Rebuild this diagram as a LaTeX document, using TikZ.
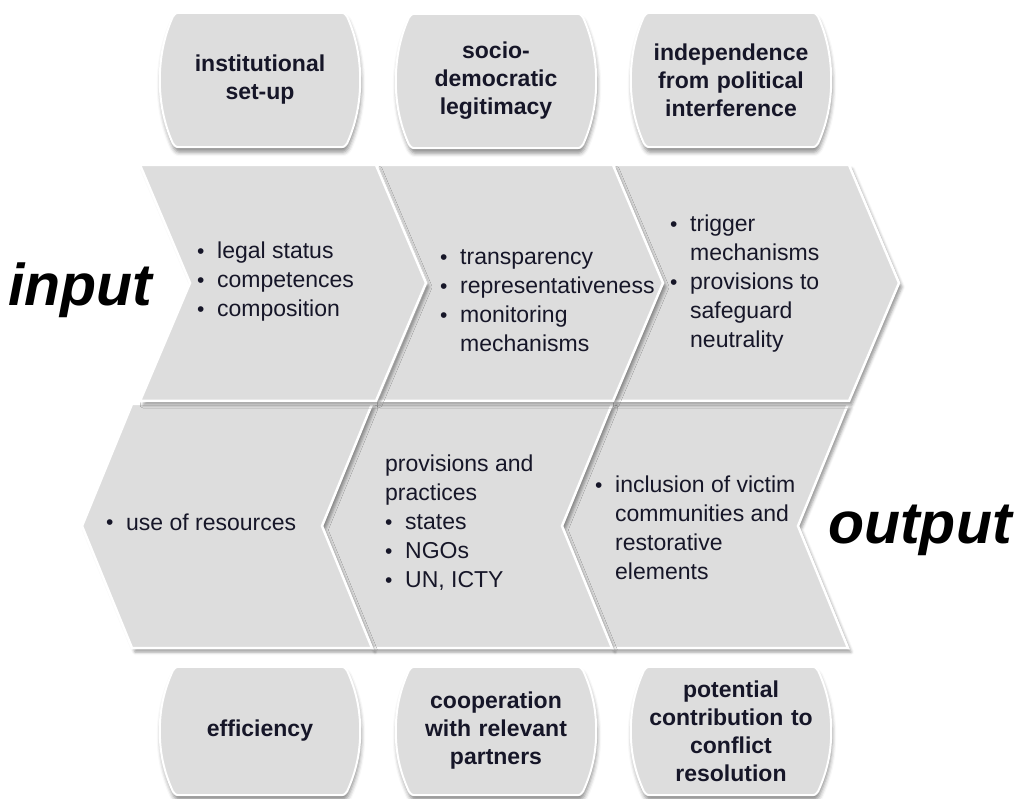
\documentclass[tikz,border=0pt]{standalone}
\usepackage{fontspec}
\setmainfont{Liberation Sans}
\usetikzlibrary{backgrounds,shadows.blur}
\definecolor{panel}{RGB}{221,221,221}
\definecolor{ink}{RGB}{22,22,40}
\tikzset{%
    pill/.style={%
        rectangle, minimum width=200pt, minimum height=134pt,
        text width=176pt, inner sep=0pt, align=center, text=ink,
        font=\fontsize{23}{28}\selectfont\bfseries
    },
    pillbox/.style={%
        fill=panel, draw=white, line width=2pt,
        blur shadow={shadow xshift=1pt, shadow yshift=-5pt,
            shadow blur radius=4pt, shadow opacity=45}
    },
    chev/.style={%
        fill=panel, draw=white, line width=2.5pt, line join=miter,
        blur shadow={shadow xshift=3pt, shadow yshift=-4pt,
            shadow blur radius=3pt, shadow opacity=40}
    },
    items/.style={%
        anchor=west, align=left, inner sep=0pt, text=ink,
        font=\fontsize{23}{29}\selectfont
    },
    big/.style={%
        anchor=west, inner sep=0pt, text=black,
        font=\fontsize{59}{60}\selectfont\bfseries\itshape
    }
}
\newcommand{\bul}{\makebox[20pt][l]{\raisebox{0.5pt}{\fontsize{21}{21}\selectfont\textbullet}}}
\newcommand{\ind}{\hspace*{20pt}}

\begin{document}
\begin{tikzpicture}[x=1pt, y=-1pt]
    \useasboundingbox (0,0) rectangle (1015,799);

    % lower row, pointing back to the left (drawn right to left)
    \foreach \l/\w in {612/236, 372/240, 132/240} {
        \path[chev] (\l,404) -- ++(\w,0) -- ++(-50,122) -- ++(50,122)
            -- ++(-\w,0) -- ++(-50,-122) -- cycle;
    }
    % upper row, pointing right (drawn right to left so each tip lies on top)
    \foreach \l in {613, 377, 140} {
        \path[chev] (\l,165) -- ++(236,0) -- ++(50,118) -- ++(-50,118)
            -- ++(-236,0) -- ++(50,-118) -- cycle;
    }

    \node[big] (input) at (8,290) {input};
    \node[big] (output) at (828,530) {output};

    \node[items] (legal) at (197,282) {\bul legal status\\\bul competences\\\bul composition};
    \node[items] (transp) at (440,301) {\bul transparency\\\bul representativeness\\\bul monitoring\\\ind mechanisms};
    \node[items] (trigger) at (670,284) {\bul trigger\\\ind mechanisms\\\bul provisions to\\\ind safeguard\\\ind neutrality};
    \node[items] (resources) at (106,522) {\bul use of resources};
    \node[items] (practices) at (385,523) {provisions and\\practices\\\bul states\\\bul NGOs\\\bul UN, ICTY};
    \node[items] (victims) at (595,528) {\bul inclusion of victim\\\ind communities and\\\ind restorative\\\ind elements};

    \node[pill] (setup) at (260,80) {institutional\\set-up};
    \node[pill] (legit) at (496,81) {socio-\\democratic\\legitimacy};
    \node[pill] (indep) at (731,80) {independence\\from political\\interference};
    \node[pill, minimum height=128pt] (effic) at (260,731) {efficiency};
    \node[pill, minimum height=128pt] (coop) at (496,731) {cooperation\\with relevant\\partners};
    \node[pill, minimum height=128pt] (contrib) at (731,731) {potential\\contribution to\\conflict\\resolution};

    % bulging boxes behind the six headings
    \begin{scope}[on background layer]
        \foreach \p in {setup, legit, indep, effic, coop, contrib} {
            \path[pillbox] ([xshift=22pt]\p.north west) -- ([xshift=-22pt]\p.north east)
                .. controls ([xshift=-16pt]\p.north east) .. ([xshift=-13pt,yshift=-4pt]\p.north east)
                .. controls ([xshift=-4pt,yshift=-24pt]\p.north east) and ([yshift=22pt]\p.east) .. (\p.east)
                .. controls ([yshift=-22pt]\p.east) and ([xshift=-4pt,yshift=24pt]\p.south east) .. ([xshift=-13pt,yshift=4pt]\p.south east)
                .. controls ([xshift=-16pt]\p.south east) .. ([xshift=-22pt]\p.south east)
                -- ([xshift=22pt]\p.south west)
                .. controls ([xshift=16pt]\p.south west) .. ([xshift=13pt,yshift=4pt]\p.south west)
                .. controls ([xshift=4pt,yshift=24pt]\p.south west) and ([yshift=-22pt]\p.west) .. (\p.west)
                .. controls ([yshift=22pt]\p.west) and ([xshift=4pt,yshift=-24pt]\p.north west) .. ([xshift=13pt,yshift=-4pt]\p.north west)
                .. controls ([xshift=16pt]\p.north west) .. cycle;
        }
    \end{scope}
\end{tikzpicture}
\end{document}
